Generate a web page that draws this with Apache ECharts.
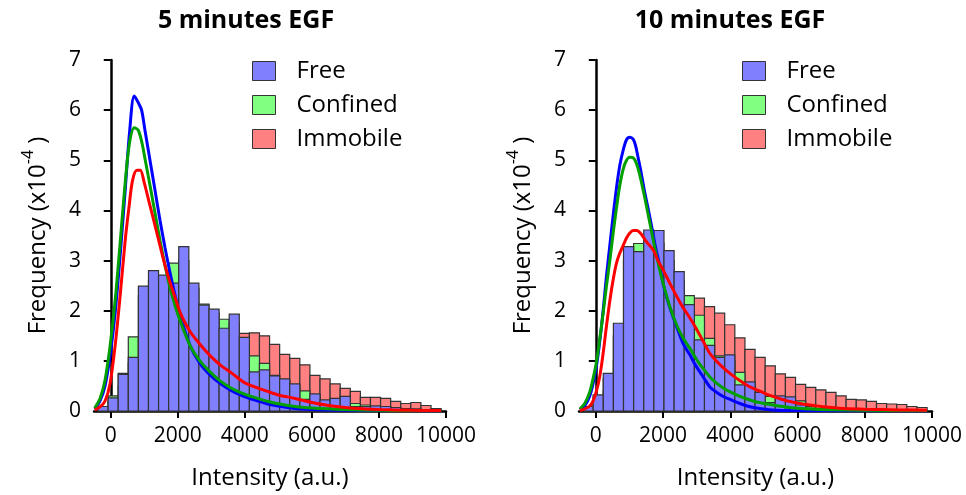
<!DOCTYPE html>
<html>
<head>
<meta charset="utf-8">
<script src="https://cdn.jsdelivr.net/npm/echarts@6/dist/echarts.min.js"></script>
<style>
  html, body { margin: 0; padding: 0; background: #ffffff; }
  #chart { width: 966px; height: 495px; }
</style>
</head>
<body>
<div id="chart"></div>
<script>
// ---- histogram binning (intensity, a.u.) ----
const binStart = -380;
const binWidth = 301;
const xTicks = [0, 2000, 4000, 6000, 8000, 10000];

const panelTitles = ['5 minutes EGF', '10 minutes EGF'];
const stateNames = ['Free', 'Confined', 'Immobile'];

// ---- 5 minutes EGF: bin frequencies (x10^-4) ----
const free5 = [0.09, 0.26, 0.73, 1.07, 2.49, 2.80, 2.71, 2.55, 3.28, 2.55, 2.11, 2.03, 1.65, 1.93, 1.47, 0.78, 0.82,
  0.70, 0.64, 0.54, 0.23, 0.34, 0.22, 0.25, 0.29, 0.09, 0.09, 0.10, 0.09, 0.07, 0.05, 0.04, 0.03, 0.02];
const confined5 = [0.08, 0.30, 0.75, 1.48, 2.30, 2.60, 2.65, 2.95, 3.00, 2.45, 2.13, 1.95, 1.83, 1.75, 1.40, 1.10, 0.95,
  0.71, 0.60, 0.50, 0.40, 0.30, 0.20, 0.20, 0.20, 0.15, 0.12, 0.10, 0.09, 0.06, 0.05, 0.04, 0.03, 0.02];
const immobile5 = [0.04, 0.18, 0.50, 0.95, 1.35, 1.60, 1.75, 1.85, 1.90, 1.85, 1.85, 1.80, 1.60, 1.65, 1.55, 1.56, 1.50,
  1.33, 1.13, 1.05, 0.92, 0.71, 0.64, 0.54, 0.45, 0.39, 0.27, 0.27, 0.25, 0.19, 0.15, 0.17, 0.11, 0.05];

// ---- 10 minutes EGF: bin frequencies (x10^-4) ----
const free10 = [0.09, 0.32, 0.75, 1.75, 3.28, 3.18, 3.61, 3.60, 3.20, 2.78, 2.12, 1.42, 1.31, 1.07, 1.12, 0.52, 0.58,
  0.37, 0.17, 0.30, 0.28, 0.12, 0.06, 0.05, 0.04, 0.03, 0.03, 0.02, 0.02, 0.01, 0.01, 0.01, 0.01, 0.005];
const confined10 = [0.08, 0.28, 0.65, 1.50, 3.00, 3.34, 3.40, 3.35, 3.00, 2.60, 2.30, 1.91, 1.45, 1.10, 1.00, 0.77, 0.55,
  0.35, 0.29, 0.25, 0.20, 0.20, 0.09, 0.09, 0.06, 0.05, 0.04, 0.03, 0.03, 0.02, 0.02, 0.01, 0.01, 0.01];
const immobile10 = [0.03, 0.15, 0.40, 1.00, 1.60, 2.00, 2.30, 2.40, 2.50, 2.50, 2.25, 2.25, 2.08, 1.95, 1.72, 1.46, 1.23,
  1.07, 0.90, 0.74, 0.67, 0.53, 0.47, 0.42, 0.37, 0.30, 0.23, 0.22, 0.19, 0.15, 0.14, 0.13, 0.09, 0.07];

// ---- fitted distributions [intensity, frequency] ----
const fitFree5 = [[-480,0.04],[-320,0.2],[-170,0.5],[-20,1.1],[130,1.95],[280,3.1],[430,4.4],[560,5.55],[700,6.28],
  [820,6.15],[920,6.0],[1020,5.6],[1170,5.0],[1320,4.4],[1470,3.8],[1620,3.25],[1770,2.75],[1920,2.3],[2070,1.9],
  [2370,1.3],[2660,0.95],[2960,0.72],[3260,0.55],[3560,0.42],[3860,0.32],[4150,0.25],[4750,0.13],[5500,0.05],
  [6000,0.03],[7000,0.015],[8000,0.01],[9850,0.005]];
const fitConfined5 = [[-480,0.06],[-320,0.25],[-170,0.62],[-20,1.3],[130,2.2],[280,3.35],[430,4.55],[560,5.35],
  [700,5.65],[820,5.6],[930,5.35],[1030,5.0],[1170,4.5],[1320,3.95],[1470,3.4],[1620,2.9],[1770,2.45],[1920,2.1],
  [2070,1.8],[2370,1.3],[2660,1.0],[2960,0.78],[3260,0.6],[3560,0.47],[3860,0.37],[4150,0.3],[4750,0.18],
  [5500,0.09],[6000,0.06],[7000,0.03],[8000,0.015],[9000,0.01],[9850,0.005]];
const fitImmobile5 = [[-480,0.02],[-320,0.08],[-170,0.2],[-20,0.55],[130,1.3],[280,2.3],[430,3.4],[550,4.1],[650,4.6],
  [780,4.8],[880,4.8],[1000,4.55],[1150,4.15],[1300,3.75],[1450,3.35],[1600,2.95],[1750,2.6],[1900,2.3],[2050,2.0],
  [2200,1.78],[2400,1.55],[2600,1.38],[2800,1.22],[3000,1.08],[3300,0.9],[3600,0.76],[4000,0.56],[4500,0.43],
  [5000,0.32],[5500,0.25],[6000,0.17],[6500,0.11],[7000,0.07],[7500,0.045],[8000,0.03],[9000,0.015],[9850,0.01]];

const fitFree10 = [[-476,0.03],[-330,0.1],[-180,0.3],[-80,0.55],[20,0.9],[120,1.4],[218,2.0],[318,2.7],[417,3.3],
  [516,3.9],[615,4.45],[714,4.9],[813,5.2],[913,5.41],[1012,5.46],[1110,5.42],[1180,5.3],[1250,5.08],[1330,4.82],
  [1458,4.35],[1568,4.0],[1670,3.65],[1766,3.3],[1900,2.9],[2014,2.5],[2160,2.15],[2312,1.85],[2460,1.58],
  [2609,1.33],[2798,1.12],[2950,0.93],[3095,0.78],[3250,0.62],[3393,0.48],[3600,0.37],[3790,0.29],[4000,0.23],
  [4286,0.15],[4500,0.1],[4782,0.06],[5268,0.02],[5800,0.01],[7000,0.005],[9850,0.0]];
const fitConfined10 = [[-476,0.04],[-330,0.15],[-180,0.38],[-80,0.65],[20,0.98],[120,1.45],[218,1.95],[318,2.5],
  [417,3.0],[516,3.55],[615,4.05],[714,4.5],[813,4.82],[913,5.0],[1012,5.06],[1110,5.05],[1200,4.95],[1310,4.7],
  [1458,4.25],[1607,3.75],[1756,3.25],[1905,2.8],[2054,2.42],[2202,2.08],[2401,1.72],[2599,1.45],[2798,1.25],
  [2950,1.08],[3095,0.93],[3250,0.8],[3393,0.68],[3600,0.55],[3790,0.46],[4000,0.38],[4286,0.29],[4500,0.24],
  [4782,0.18],[5268,0.12],[5774,0.07],[6369,0.04],[7000,0.025],[8000,0.015],[9850,0.005]];
const fitImmobile10 = [[-476,0.01],[-330,0.04],[-180,0.1],[-80,0.2],[20,0.4],[120,0.7],[218,1.15],[318,1.7],
  [417,2.2],[516,2.62],[615,2.95],[714,3.15],[813,3.3],[913,3.45],[1012,3.55],[1110,3.6],[1220,3.6],[1360,3.52],
  [1500,3.38],[1717,3.2],[1850,3.0],[2014,2.8],[2200,2.55],[2411,2.28],[2560,2.1],[2708,1.95],[2850,1.8],
  [3006,1.62],[3200,1.38],[3393,1.15],[3700,0.92],[3988,0.75],[4300,0.6],[4583,0.48],[4900,0.39],[5179,0.31],
  [5500,0.24],[5774,0.19],[6071,0.15],[6369,0.12],[6700,0.09],[7000,0.07],[7400,0.05],[8000,0.035],[8500,0.028],
  [9000,0.022],[9850,0.015]];

// ---- styling ----
const FONT = '"Open Sans"';
const barFill = { Free: '#8080ff', Confined: '#80ff80', Immobile: '#ff8080' };
const lineColor = { Free: '#0000ff', Confined: '#00a000', Immobile: '#ff0000' };
const barEdge = '#333333';

const panels = [
  { title: panelTitles[0], titleX: 241, legendX: 247, grid: { left: 94, top: 60, width: 352, height: 351 },
    bars: { Free: free5, Confined: confined5, Immobile: immobile5 },
    fits: { Free: fitFree5, Confined: fitConfined5, Immobile: fitImmobile5 } },
  { title: panelTitles[1], titleX: 725, legendX: 737, grid: { left: 579, top: 60, width: 353, height: 351 },
    bars: { Free: free10, Confined: confined10, Immobile: immobile10 },
    fits: { Free: fitFree10, Confined: fitConfined10, Immobile: fitImmobile10 } }
];

function histogramSeries(name, values, gi, z) {
  const fill = barFill[name];
  return {
    type: 'custom',
    name: name,
    xAxisIndex: gi,
    yAxisIndex: gi,
    z: z,
    data: values.map((v, i) => [binStart + i * binWidth, binStart + (i + 1) * binWidth, v]),
    encode: { x: [0, 1], y: 2 },
    itemStyle: { color: fill },
    renderItem: function (params, api) {
      const topLeft = api.coord([api.value(0), api.value(2)]);
      const bottomRight = api.coord([api.value(1), 0]);
      return {
        type: 'rect',
        shape: { x: topLeft[0], y: topLeft[1], width: bottomRight[0] - topLeft[0], height: bottomRight[1] - topLeft[1] },
        style: { fill: fill, stroke: barEdge, lineWidth: 1.2 }
      };
    }
  };
}

function fitSeries(name, points, gi, z) {
  return {
    type: 'line',
    name: name + ' fit',
    xAxisIndex: gi,
    yAxisIndex: gi,
    z: z,
    data: points,
    smooth: 0.3,
    showSymbol: false,
    lineStyle: { color: lineColor[name], width: 3 },
    silent: true
  };
}

const option = {
  animation: false,
  backgroundColor: '#ffffff',
  title: [],
  legend: [],
  grid: [],
  xAxis: [],
  yAxis: [],
  series: []
};

panels.forEach((p, gi) => {
  option.title.push({
    text: p.title,
    left: p.titleX,
    top: 3,
    textAlign: 'center',
    textStyle: { fontFamily: FONT, fontSize: 25, fontWeight: 'bold', color: '#000' }
  });
  option.legend.push({
    orient: 'vertical',
    left: p.legendX,
    top: 54,
    itemWidth: 23,
    itemHeight: 19,
    itemGap: 10,
    selectedMode: false,
    icon: 'rect',
    textStyle: { fontFamily: FONT, fontSize: 24, color: '#000', padding: [0, 0, 0, 16] },
    data: stateNames.map(n => ({ name: n, itemStyle: { color: barFill[n], borderColor: barEdge, borderWidth: 1 } }))
  });
  option.grid.push(Object.assign({ containLabel: false }, p.grid));
  option.xAxis.push({
    type: 'value',
    gridIndex: gi,
    min: -500,
    max: 10000,
    name: 'Intensity (a.u.)',
    nameLocation: 'middle',
    nameGap: 55,
    nameTextStyle: { fontFamily: FONT, fontSize: 24, color: '#000' },
    splitLine: { show: false },
    axisLine: { onZero: false, lineStyle: { color: '#000', width: 2.5 } },
    axisTick: { show: true, customValues: xTicks, length: 7, lineStyle: { color: '#000', width: 2 } },
    axisLabel: { customValues: xTicks, margin: 15, fontFamily: FONT, fontSize: 21, color: '#000',
      formatter: v => String(v) }
  });
  option.yAxis.push({
    type: 'value',
    gridIndex: gi,
    min: 0,
    max: 7,
    interval: 1,
    name: '{a|Frequency (x10}{s|-4}{a| )}',
    nameLocation: 'middle',
    nameRotate: 90,
    nameGap: 38,
    nameTextStyle: {
      rich: {
        a: { fontFamily: FONT, fontSize: 24, color: '#000', lineHeight: 36 },
        s: { fontFamily: FONT, fontSize: 16, color: '#000', lineHeight: 16, verticalAlign: 'top' }
      }
    },
    splitLine: { show: false },
    axisLine: { show: true, lineStyle: { color: '#000', width: 2.5 } },
    axisTick: { show: true, length: 7, lineStyle: { color: '#000', width: 2 } },
    axisLabel: { margin: 13, fontFamily: FONT, fontSize: 21, color: '#000' }
  });
  // histograms drawn back to front: Immobile, Confined, Free
  option.series.push(histogramSeries('Immobile', p.bars.Immobile, gi, 2));
  option.series.push(histogramSeries('Confined', p.bars.Confined, gi, 3));
  option.series.push(histogramSeries('Free', p.bars.Free, gi, 4));
  option.series.push(fitSeries('Free', p.fits.Free, gi, 5));
  option.series.push(fitSeries('Confined', p.fits.Confined, gi, 6));
  option.series.push(fitSeries('Immobile', p.fits.Immobile, gi, 7));
});

const chart = echarts.init(document.getElementById('chart'), null, { renderer: 'canvas' });
chart.setOption(option);
</script>
</body>
</html>
